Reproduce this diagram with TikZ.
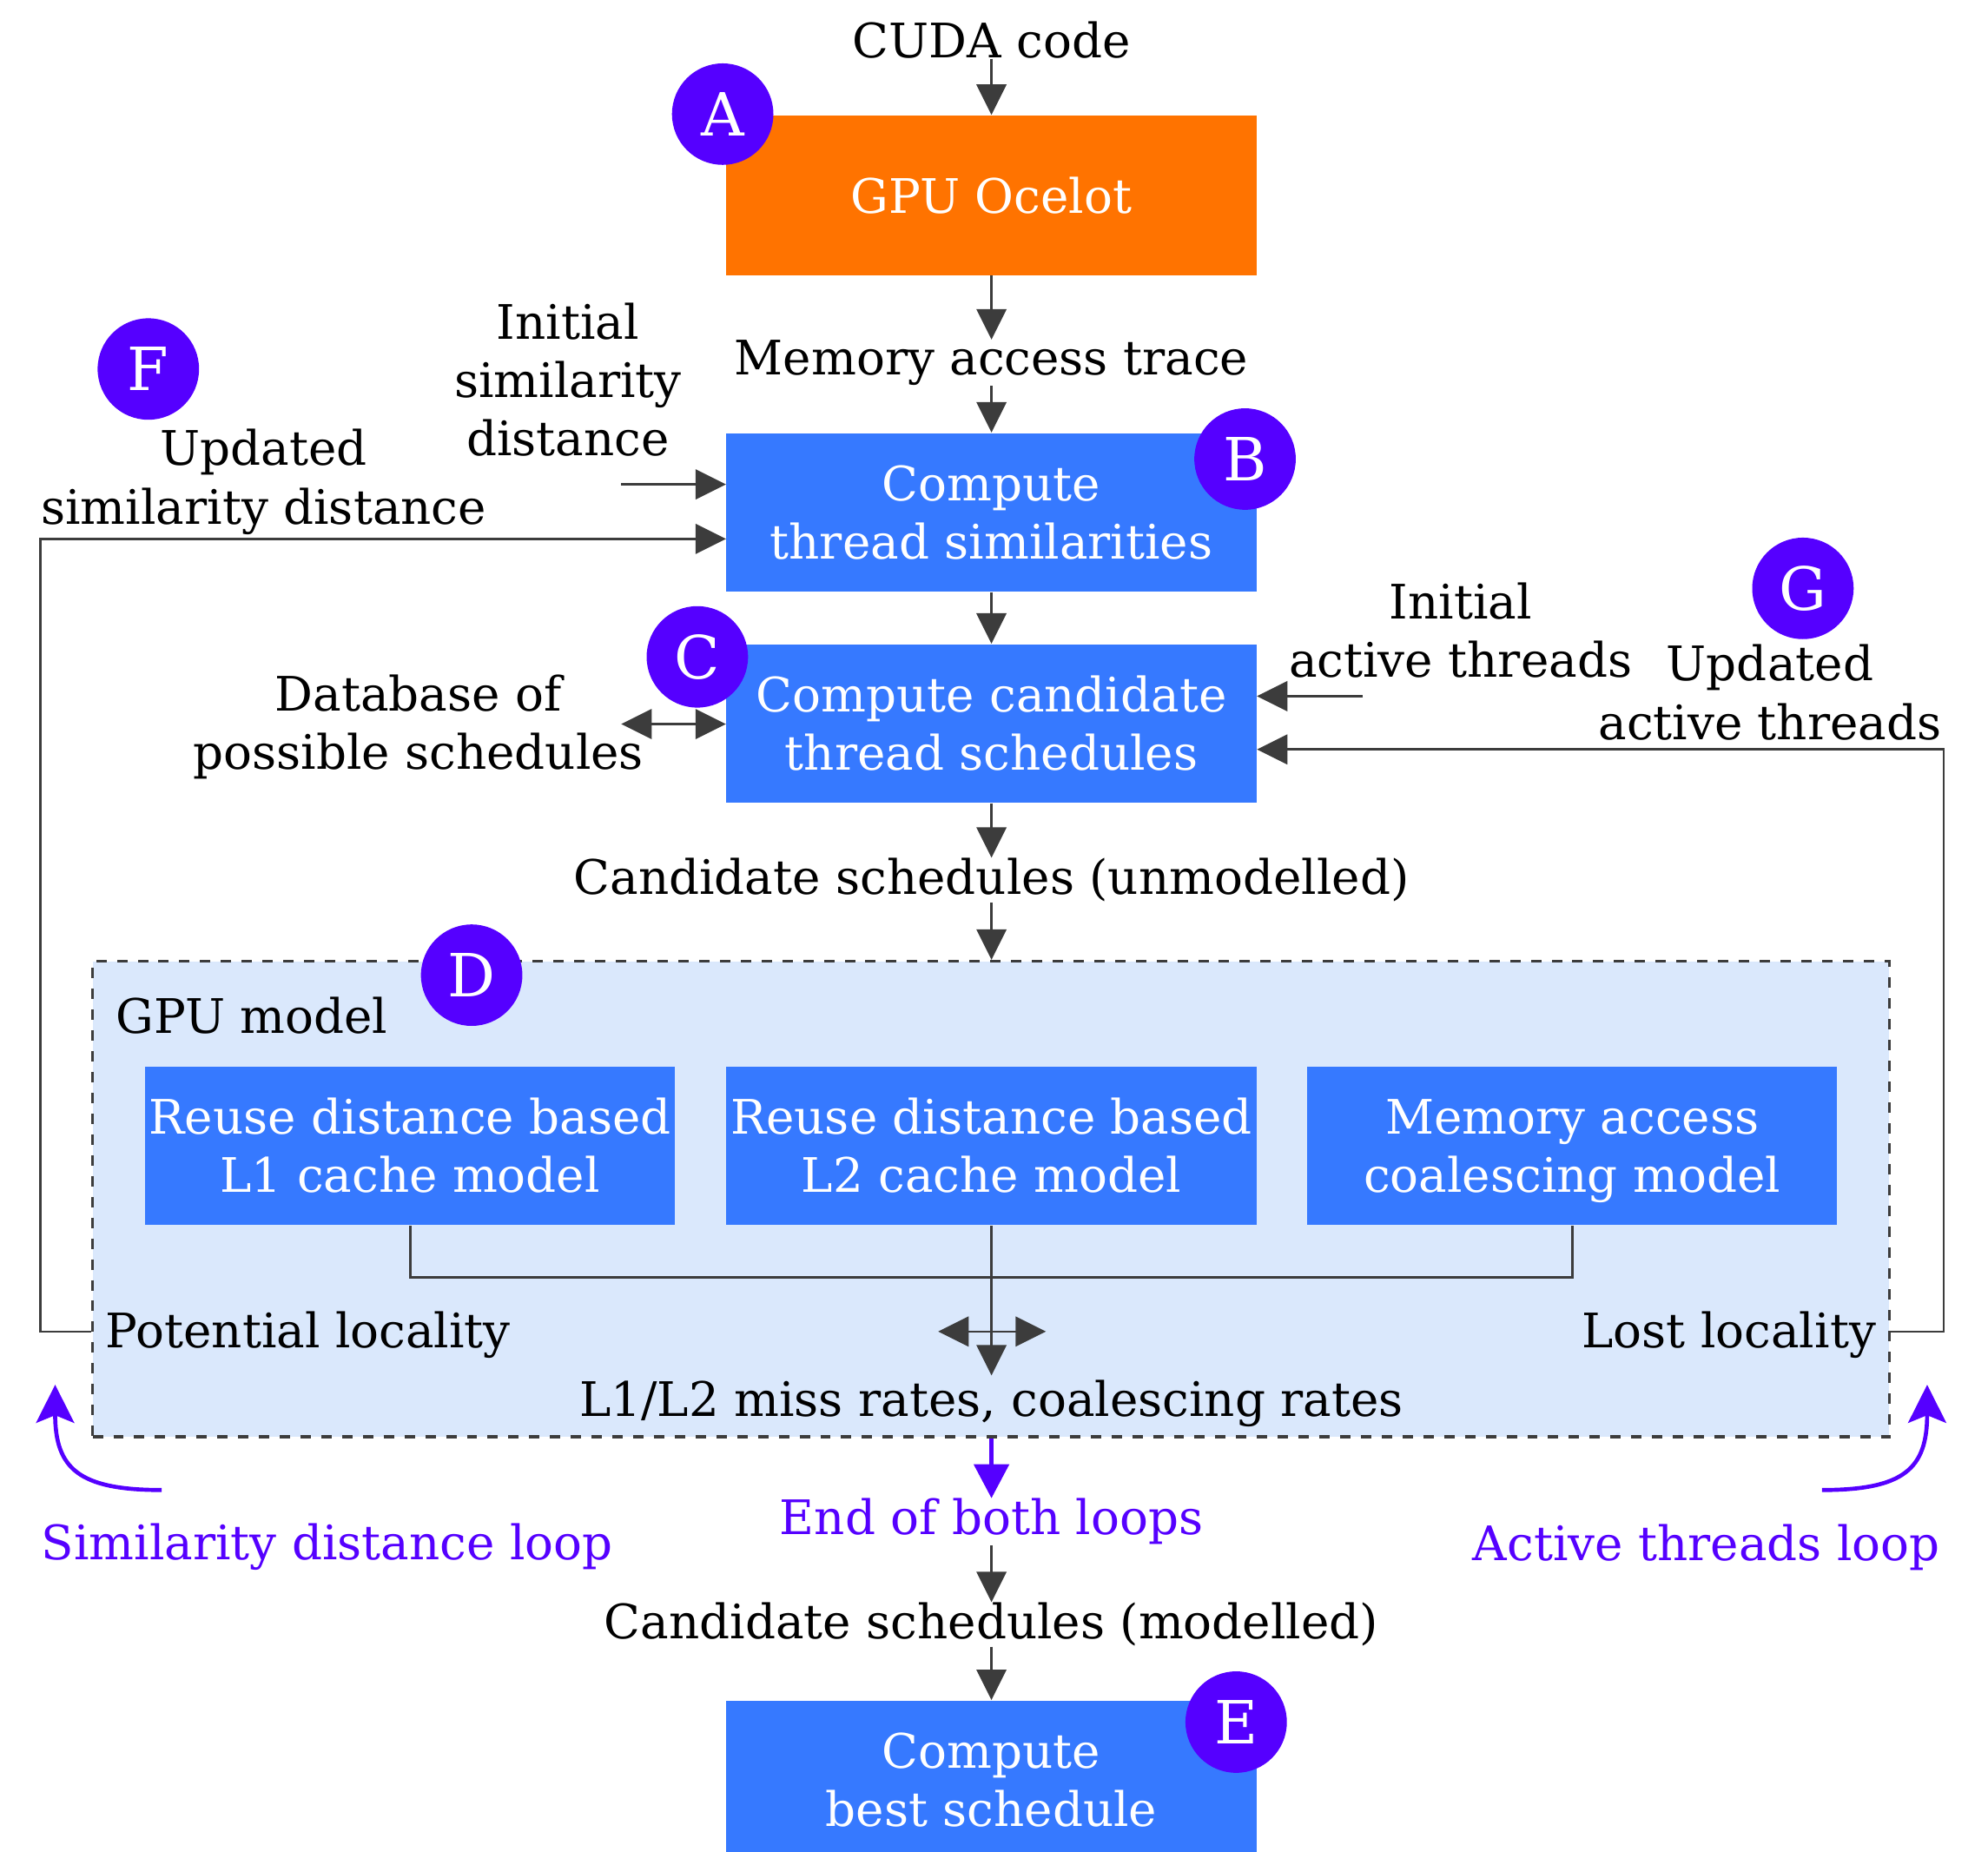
\documentclass[tikz,border=0pt]{standalone}
\usepackage{fontspec}
\setmainfont{DejaVu Serif}
\usetikzlibrary{arrows.meta,calc}
\definecolor{boxblue}{HTML}{3679FF}
\definecolor{ocelotc}{HTML}{FF7300}
\definecolor{badgec}{HTML}{5500FF}
\definecolor{modelbg}{HTML}{DAE8FC}
\definecolor{linec}{HTML}{3C3C3C}
\newcommand{\mainsize}{\fontsize{18.75}{23}\selectfont}
\newcommand{\badgesize}{\fontsize{23.5}{28}\selectfont}
\begin{document}
\begin{tikzpicture}[x=0.5pt,y=-0.5pt,
  box/.style={rectangle, fill=boxblue, text=white, minimum width=209pt, minimum height=62.5pt, inner sep=0pt, align=center, font=\mainsize},
  lbl/.style={align=center, inner sep=0pt, font=\mainsize},
  plbl/.style={lbl, text=badgec},
  badge/.style={circle, fill=badgec, text=white, minimum size=40pt, inner sep=0pt, font=\badgesize},
  conn/.style={draw=linec, line width=0.9pt},
  arr/.style={conn, -{Triangle[length=12pt,width=11.75pt]}},
  dblarr/.style={conn, {Triangle[length=12pt,width=11.75pt]}-{Triangle[length=12pt,width=11.75pt]}},
  parr/.style={draw=badgec, line width=1.7pt, -{Triangle[length=13.4pt,width=13.7pt]}},
  pcurve/.style={draw=badgec, line width=1.6pt, -{Stealth[length=15pt,width=15pt,inset=3pt]}},
]
\useasboundingbox (0,0) rectangle (1568,1460);

% container
\node[draw=linec, line width=1.1pt, dash pattern=on 4.1pt off 4.1pt, fill=modelbg,
      minimum width=708.5pt, minimum height=187.5pt, inner sep=0pt] (model) at (781.5,945.5) {};

% boxes
\node[box, fill=ocelotc, minimum height=63pt] (ocelot) at (782,154) {GPU Ocelot};
\node[box] (simb) at (782,404) {Compute\\thread similarities};
\node[box] (candb) at (782,570.5) {Compute candidate\\thread schedules};
\node[box] (l1) at (323.5,903.5) {Reuse distance based\\L1 cache model};
\node[box] (l2) at (782,903.5) {Reuse distance based\\L2 cache model};
\node[box] (coal) at (1240,903.5) {Memory access\\\smash{coalescing model}};
\node[box] (bestb) at (782,1403.5) {Compute\\best schedule};

% labels
\node[lbl] (cuda) at (782,31.5) {CUDA code};
\node[lbl] (mem) at (782,286) {Memory access trace};
\node[lbl] (initsim) at (448,299.5) {Initial\\similarity\\distance};
\node[lbl] (updsim) at (208,380) {Updated\\similarity distance};
\node[lbl] (db) at (330,573) {Database of\\possible schedules};
\node[lbl] (initact) at (1152,497) {Initial\\active threads};
\node[lbl] (updact) at (1396,546) {Updated\\active threads};
\node[lbl] (candU) at (782,694) {Candidate schedules (unmodelled)};
\node[lbl, anchor=west] (gpum) at (91,801) {GPU model};
\node[lbl, anchor=west] (potential) at (83,1053) {Potential locality};
\node[lbl, anchor=east] (lost) at (1480,1053) {Lost locality};
\node[lbl] (rates) at (782,1106.5) {L1/L2 miss rates, coalescing rates};
\node[plbl] (endl) at (782,1200) {End of both loops};
\node[lbl] (candM) at (782,1281) {Candidate schedules (modelled)};
\node[plbl] (simloop) at (258,1220) {Similarity distance loop};
\node[plbl] (actloop) at (1346,1220) {Active threads loop};

% free ends
\coordinate (simstart) at (490,382);
\coordinate (dbstart) at (490,571);
\coordinate (actstart) at (1075,549);
\coordinate (dblL) at (740,1050);
\coordinate (dblR) at (825,1050);
\coordinate (slA) at (127.5,1175);
\coordinate (slB) at (43.5,1092);
\coordinate (alA) at (1437,1175);
\coordinate (alB) at (1520,1092);

% connectors
\draw[arr] (cuda) -- (ocelot);
\draw[arr] (ocelot) -- (mem);
\draw[arr] (mem) -- (simb);
\draw[arr] (simstart) -- (simb.west |- simstart);
\draw[arr] (model.west |- dblL) -- ++(-40,0) |- ([yshift=-10.5pt]simb.west);
\draw[arr] (simb) -- (candb);
\draw[dblarr] (dbstart) -- (candb.west |- dbstart);
\draw[arr] (actstart) -- (candb.east |- actstart);
\draw[arr] (model.east |- dblR) -- ++(42,0) |- ([yshift=-10.25pt]candb.east);
\draw[arr] (candb) -- (candU);
\draw[arr] (candU) -- (model.north -| candU);
\draw[conn] (l1.south) -- ++(0,41) -| (coal.south);
\draw[arr] (l2.south) -- ([yshift=1.5pt]l2.south |- rates.north);
\draw[dblarr] (dblL) -- (dblR);
\draw[parr] (model.south -| endl) -- (endl);
\draw[arr] (endl) -- (candM);
\draw[arr] (candM) -- (bestb);
\draw[pcurve] (slA) .. controls (62,1175) and (43.5,1158) .. (slB);
\draw[pcurve] (alA) .. controls (1502,1175) and (1520,1158) .. (alB);

% badges
\node[badge] (bA) at (570,90) {A};
\node[badge] (bB) at (982,362) {B};
\node[badge] (bC) at (550,518) {C};
\node[badge] (bD) at (372,769) {D};
\node[badge] (bE) at (975,1358) {E};
\node[badge] (bF) at (117,291) {F};
\node[badge] (bG) at (1422,464) {G};
\end{tikzpicture}
\end{document}
